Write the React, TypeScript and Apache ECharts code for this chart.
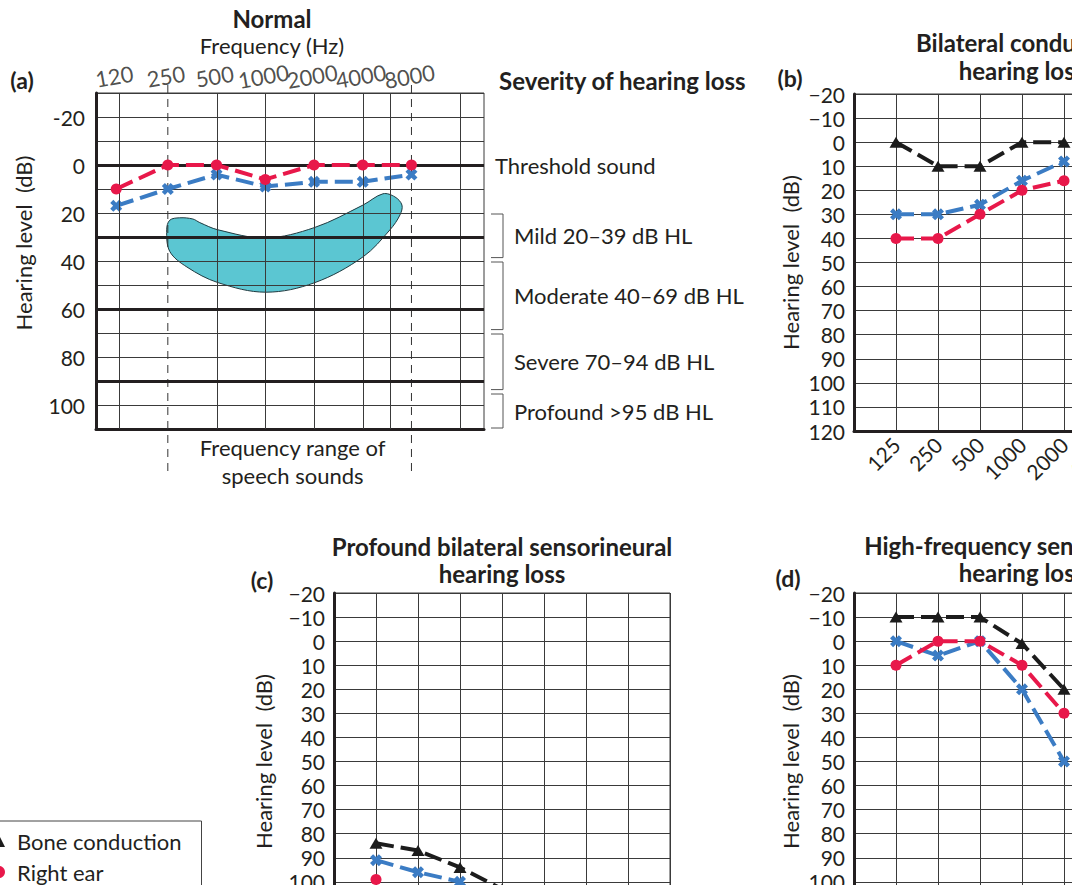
import React, { useEffect, useRef } from 'react';
import * as echarts from 'echarts';

const FONT = 'Lato, "Liberation Sans", sans-serif';
const INK = '#231f20';
const GRID = '#3a3a3a';
const RED = '#e8184a';
const BLUE = '#3b7cc4';
const BONE = '#1c1c1c';
const TEAL = '#5bc6d2';
const X_SYMBOL = 'path://M0 2.6L2.6 0L5 2.4L7.4 0L10 2.6L7.6 5L10 7.4L7.4 10L5 7.6L2.6 10L0 7.4L2.4 5Z';
const DASH = [18, 7];

// ---------- (a) Normal ----------
const freqA = [120, 250, 500, 1000, 2000, 4000, 8000];
const rightEarA = [10, 0, 0, 6, 0, 0, 0];
const leftEarA = [17, 10, 4, 9, 7, 7, 4];
const gridFreqA = [125, 500, 1000, 2000, 4000, 5900, 16000];
const thickLevelsA = [0, 30, 60, 90];
const speechRangeA = [250, 8000];
const bananaFreq = [246, 257, 296, 357, 394, 510, 1008, 2025, 4011, 5333, 6325, 6988, 6795, 5893, 4011, 2025, 1008, 510, 328, 257];
const bananaDb = [27, 23, 22, 22.5, 24, 27, 30.4, 26, 16.7, 12, 13.3, 16.7, 20.8, 27, 38.3, 49, 53, 49, 42.5, 36];
const severityLabels = ['Threshold sound', 'Mild 20–39 dB HL', 'Moderate 40–69 dB HL', 'Severe 70–94 dB HL', 'Profound >95 dB HL'];
const severityFrom = [0, 20, 40, 70, 95];
const severityTo = [0, 39, 69, 94, 110];

// ---------- (b)-(d) ----------
const freqCategories = ['', '125', '250', '500', '1000', '2000', '4000', '8000', ''];
const freqB = ['125', '250', '500', '1000', '2000'];
const boneB = [0, 10, 10, 0, 0];
const rightB = [40, 40, 30, 20, 16];
const leftB = [30, 30, 26, 16, 8];
const freqC = ['125', '250', '500', '1000'];
const boneC = [84, 87, 94, 103];
const rightC = [99];
const leftC = [91, 96, 100];
const freqD = ['125', '250', '500', '1000', '2000'];
const boneD = [-10, -10, -10, 1, 20];
const rightD = [10, 0, 0, 10, 30];
const leftD = [0, 6, 0, 20, 50];

const L2 = (f: number) => Math.log2(f);
const X_MIN_A = L2(90);
const X_MAX_A = L2(22450);

const txt = (size: number, weight: any = 'normal') => ({
  fontSize: size,
  fontFamily: FONT,
  fontWeight: weight,
  fill: INK,
});

function lineSeries(name: string, gi: number, data: any[], kind: 'bone' | 'right' | 'left') {
  const color = kind === 'bone' ? BONE : kind === 'right' ? RED : BLUE;
  const symbol = kind === 'bone' ? 'triangle' : kind === 'right' ? 'circle' : X_SYMBOL;
  const symbolSize = kind === 'bone' ? [13, 11] : kind === 'right' ? 11 : 12;
  return {
    name,
    type: 'line',
    xAxisIndex: gi,
    yAxisIndex: gi,
    data,
    symbol,
    symbolSize,
    showSymbol: true,
    itemStyle: { color },
    lineStyle: { color, width: 4, type: DASH },
    z: kind === 'right' ? 5 : kind === 'left' ? 4 : 3,
    clip: false,
  };
}

export default function App() {
  const ref = useRef<HTMLDivElement>(null);
  useEffect(() => {
    if (!ref.current) return;
    const chart = echarts.init(ref.current, undefined, { renderer: 'svg' });

    const yAxisBD = (gi: number, nameGap: number) => ({
      gridIndex: gi,
      type: 'value',
      inverse: true,
      min: -20,
      max: 120,
      interval: 10,
      name: 'Hearing level  (dB)',
      nameLocation: 'middle',
      nameGap,
      nameTextStyle: { fontSize: 22, fontFamily: FONT, color: INK },
      axisLine: { show: true, onZero: false, lineStyle: { color: INK, width: 3 } },
      axisTick: { show: false },
      axisLabel: {
        fontSize: 21,
        fontFamily: FONT,
        color: INK,
        margin: 9,
        formatter: (v: number) => (v < 0 ? '\u2212' + Math.abs(v) : String(v)),
      },
      splitLine: { show: true, lineStyle: { color: GRID, width: 1 } },
    });
    const xAxisBD = (gi: number) => ({
      gridIndex: gi,
      type: 'category',
      data: freqCategories,
      boundaryGap: false,
      axisLine: { show: true, onZero: false, lineStyle: { color: INK, width: 3 } },
      axisTick: { show: false },
      axisLabel: { interval: 0, rotate: 45, margin: 10, fontSize: 21, fontFamily: FONT, color: INK },
      splitLine: { show: true, lineStyle: { color: GRID, width: 1 } },
    });
    const gridBox = (left: number, top: number, width: number, height: number) => ({
      left, top, width, height,
      show: true,
      borderColor: GRID,
      borderWidth: 1,
      containLabel: false,
      outerBoundsMode: 'none',
    });

    const option: any = {
      animation: false,
      backgroundColor: '#ffffff',
      textStyle: { fontFamily: FONT },
      grid: [
        gridBox(96, 93, 388, 336),
        gridBox(854, 94, 336, 337),
        gridBox(334, 593, 336, 337),
        gridBox(854, 593, 336, 337),
      ],
      xAxis: [
        {
          gridIndex: 0,
          type: 'value',
          min: X_MIN_A,
          max: X_MAX_A,
          axisLine: { show: true, onZero: false, lineStyle: { color: INK, width: 3 } },
          axisTick: { show: false },
          axisLabel: { show: false },
          splitLine: { show: false },
        },
        xAxisBD(1),
        xAxisBD(2),
        xAxisBD(3),
      ],
      yAxis: [
        {
          gridIndex: 0,
          type: 'value',
          inverse: true,
          min: -30,
          max: 110,
          interval: 10,
          axisLine: { show: true, onZero: false, lineStyle: { color: INK, width: 3 } },
          axisTick: { show: false },
          axisLabel: {
            fontSize: 21,
            fontFamily: FONT,
            color: INK,
            margin: 11,
            formatter: (v: number) => (v % 20 === 0 && v >= -20 && v <= 100 ? String(v) : ''),
          },
          splitLine: { show: true, lineStyle: { color: GRID, width: 1 } },
        },
        yAxisBD(1, 53),
        yAxisBD(2, 60),
        yAxisBD(3, 53),
      ],
      legend: {
        orient: 'vertical',
        left: -17,
        top: 821,
        height: 140,
        width: 260,
        padding: [9, 20, 10, 10],
        itemGap: 9,
        itemWidth: 12,
        itemHeight: 12,
        borderColor: '#444',
        borderWidth: 1,
        textStyle: { fontSize: 22, fontFamily: FONT, color: INK, padding: [0, 0, 0, 7] },
        data: [
          { name: 'Bone conduction', icon: 'triangle' },
          { name: 'Right ear', icon: 'circle' },
          { name: 'Left ear', icon: X_SYMBOL },
        ],
      },
      graphic: [
        { type: 'text', x: 272, y: 18, style: { ...txt(24, 'bold'), text: 'Normal', align: 'center', verticalAlign: 'middle' } },
        { type: 'text', x: 272, y: 45, style: { ...txt(22), text: 'Frequency (Hz)', align: 'center', verticalAlign: 'middle' } },
        { type: 'text', x: 22, y: 80, style: { ...txt(23, 'bold'), text: '(a)', align: 'center', verticalAlign: 'middle' } },
        { type: 'text', x: 499, y: 80, style: { ...txt(24, 'bold'), text: 'Severity of hearing loss', align: 'left', verticalAlign: 'middle' } },
        {
          type: 'text', x: 23, y: 243, rotation: Math.PI / 2,
          style: { ...txt(22), text: 'Hearing level  (dB)', align: 'center', verticalAlign: 'middle' },
        },
        { type: 'text', x: 790, y: 78, style: { ...txt(23, 'bold'), text: '(b)', align: 'center', verticalAlign: 'middle' } },
        {
          type: 'text', x: 1022, y: 56,
          style: { ...txt(24, 'bold'), text: 'Bilateral conductive\nhearing loss', lineHeight: 28, align: 'center', verticalAlign: 'middle' },
        },
        { type: 'text', x: 262, y: 580, style: { ...txt(23, 'bold'), text: '(c)', align: 'center', verticalAlign: 'middle' } },
        {
          type: 'text', x: 502, y: 560,
          style: { ...txt(24, 'bold'), text: 'Profound bilateral sensorineural\nhearing loss', lineHeight: 27, align: 'center', verticalAlign: 'middle' },
        },
        { type: 'text', x: 788, y: 578, style: { ...txt(23, 'bold'), text: '(d)', align: 'center', verticalAlign: 'middle' } },
        {
          type: 'text', x: 1022, y: 559,
          style: { ...txt(24, 'bold'), text: 'High-frequency sensorineural\nhearing loss', lineHeight: 27, align: 'center', verticalAlign: 'middle' },
        },
      ],
      series: [
        // speech banana
        {
          type: 'custom',
          xAxisIndex: 0,
          yAxisIndex: 0,
          z: -1,
          silent: true,
          clip: false,
          data: bananaFreq.map((f, i) => [L2(f), bananaDb[i]]),
          renderItem: (params: any, api: any) => {
            if (params.dataIndex !== 0) return null;
            const pts = bananaFreq.map((f, i) => api.coord([L2(f), bananaDb[i]]));
            return {
              type: 'polygon',
              shape: { points: pts, smooth: 0.35 },
              style: { fill: TEAL, stroke: '#1f3a40', lineWidth: 1 },
            };
          },
        },
        // frequency labels + grid lines of (a)
        {
          type: 'scatter',
          xAxisIndex: 0,
          yAxisIndex: 0,
          z: 1,
          silent: true,
          clip: false,
          symbolSize: 0,
          data: freqA.map((f) => [L2(f), -30]),
          label: {
            show: true,
            position: 'top',
            distance: 6,
            rotate: 10,
            fontSize: 22,
            fontFamily: FONT,
            color: INK,
            formatter: (p: any) => String(freqA[p.dataIndex]),
          },
          markLine: {
            silent: true,
            symbol: ['none', 'none'],
            label: { show: false },
            data: [
              ...gridFreqA.map((f) => ({ xAxis: L2(f), lineStyle: { color: GRID, width: 1, type: 'solid' } })),
              ...thickLevelsA.map((v) => ({ yAxis: v, lineStyle: { color: INK, width: 3, type: 'solid' } })),
            ],
          },
        },
        // speech range dashed lines + caption
        {
          type: 'custom',
          xAxisIndex: 0,
          yAxisIndex: 0,
          z: 1,
          silent: true,
          clip: false,
          data: speechRangeA.map((f) => [L2(f), 0]),
          renderItem: (params: any, api: any) => {
            const cs = params.coordSys;
            const x = api.coord([api.value(0), 0])[0];
            const children: any[] = [
              {
                type: 'line',
                shape: { x1: x, y1: cs.y - 8, x2: x, y2: cs.y + cs.height + 48 },
                style: { stroke: '#333', lineWidth: 1, lineDash: [8, 6] },
              },
            ];
            if (params.dataIndex === 0) {
              const xs = speechRangeA.map((f) => api.coord([L2(f), 0])[0]);
              const mid = (xs[0] + xs[1]) / 2 + 3;
              children.push({
                type: 'text',
                x: mid,
                y: cs.y + cs.height + 32,
                style: { ...txt(22), text: 'Frequency range of\nspeech sounds', lineHeight: 28, align: 'center', verticalAlign: 'middle' },
              });
            }
            return { type: 'group', children };
          },
        },
        // severity brackets
        {
          type: 'custom',
          xAxisIndex: 0,
          yAxisIndex: 0,
          z: 1,
          silent: true,
          clip: false,
          data: severityFrom.map((v, i) => [X_MIN_A, v, severityTo[i]]),
          renderItem: (params: any, api: any) => {
            const cs = params.coordSys;
            const right = cs.x + cs.width;
            const lo = api.value(1);
            const hi = api.value(2);
            const y1 = api.coord([X_MIN_A, lo])[1];
            const y2 = api.coord([X_MIN_A, hi])[1];
            const children: any[] = [];
            if (hi > lo) {
              children.push({
                type: 'polyline',
                shape: { points: [[right + 7, y1 + 1], [right + 19, y1 + 1], [right + 19, y2 - 1], [right + 7, y2 - 1]] },
                style: { stroke: '#555', lineWidth: 1, fill: null },
              });
            }
            children.push({
              type: 'text',
              x: hi > lo ? right + 30 : right + 11,
              y: (y1 + y2) / 2,
              style: { ...txt(22), text: severityLabels[params.dataIndex], align: 'left', verticalAlign: 'middle' },
            });
            return { type: 'group', children };
          },
        },
        lineSeries('Right ear', 0, freqA.map((f, i) => [L2(f), rightEarA[i]]), 'right'),
        lineSeries('Left ear', 0, freqA.map((f, i) => [L2(f), leftEarA[i]]), 'left'),
        // (b)
        lineSeries('Bone conduction', 1, freqB.map((f, i) => [f, boneB[i]]), 'bone'),
        lineSeries('Right ear', 1, freqB.map((f, i) => [f, rightB[i]]), 'right'),
        lineSeries('Left ear', 1, freqB.map((f, i) => [f, leftB[i]]), 'left'),
        // (c)
        lineSeries('Bone conduction', 2, freqC.map((f, i) => [f, boneC[i]]), 'bone'),
        lineSeries('Right ear', 2, rightC.map((v, i) => [freqC[i], v]), 'right'),
        lineSeries('Left ear', 2, leftC.map((v, i) => [freqC[i], v]), 'left'),
        // (d)
        lineSeries('Bone conduction', 3, freqD.map((f, i) => [f, boneD[i]]), 'bone'),
        lineSeries('Right ear', 3, freqD.map((f, i) => [f, rightD[i]]), 'right'),
        lineSeries('Left ear', 3, freqD.map((f, i) => [f, leftD[i]]), 'left'),
      ],
    };
    chart.setOption(option);
    return () => chart.dispose();
  }, []);
  return (
    <div
      ref={ref}
      style={{ position: 'absolute', left: 0, top: 0, width: 1072, height: 885, overflow: 'hidden' }}
    />
  );
}
